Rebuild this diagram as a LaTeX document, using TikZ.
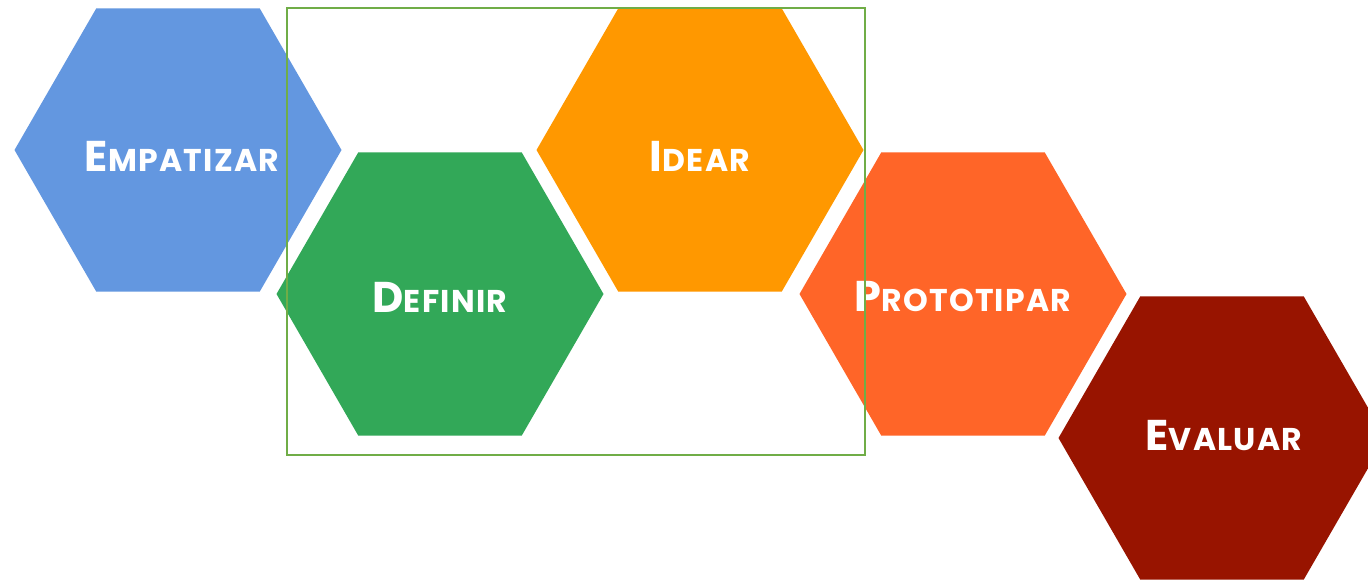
\documentclass[tikz,border=0pt]{standalone}
\usepackage{fontspec}
\setmainfont{Poppins}
\usetikzlibrary{shapes.geometric}
\definecolor{cEmp}{RGB}{99,151,224}
\definecolor{cDef}{RGB}{50,168,88}
\definecolor{cIde}{RGB}{255,152,0}
\definecolor{cPro}{RGB}{255,101,40}
\definecolor{cEva}{RGB}{152,20,0}
\definecolor{cFrame}{RGB}{112,173,71}
\newcommand{\hexlabel}[2]{\addfontfeature{LetterSpace=4}{\fontsize{43}{43}\selectfont #1}{\fontsize{31.5}{31.5}\selectfont #2}}
\tikzset{
  hexa/.style={regular polygon, regular polygon sides=6, minimum size=327pt,
    inner sep=0pt, fill=#1, draw=none},
  hextext/.style={text=white, font=\bfseries, inner sep=0pt},
  frame/.style={draw=cFrame, line width=2pt}
}
\begin{document}
\begin{tikzpicture}[x=1pt,y=-1pt]
\useasboundingbox (0,0) rectangle (1368,581);
\fill[white] (0,0) rectangle (1368,581);
\begin{scope}
\clip (0,0) rectangle (1368,581);
\node[hexa=cEmp, label={[hextext,xshift=4pt,yshift=-6pt]center:\hexlabel{E}{MPATIZAR}}] (emp) at (178,150) {};
\node[hexa=cDef, label={[hextext,yshift=-3pt]center:\hexlabel{D}{EFINIR}}] (def) at (440,294) {};
\node[hexa=cIde, label={[hextext,yshift=-6pt]center:\hexlabel{I}{DEAR}}] (ide) at (700,150) {};
\node[hexa=cPro, label={[hextext,yshift=-3pt]center:\hexlabel{P}{ROTOTIPAR}}] (pro) at (963,294) {};
\node[hexa=cEva, label={[hextext,xshift=2pt,yshift=2pt]center:\hexlabel{E}{VALUAR}}] (eva) at (1222,438) {};
\end{scope}
\coordinate (f1) at (287,8);
\coordinate (f2) at (865,455);
\draw[frame] (f1) rectangle (f2);
\end{tikzpicture}
\end{document}
